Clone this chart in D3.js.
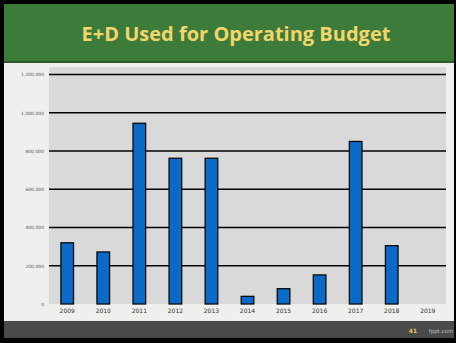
<!DOCTYPE html>
<html lang="en">
<head>
<meta charset="UTF-8">
<title>E+D Used for Operating Budget</title>
<script src="https://d3js.org/d3.v7.min.js"></script>
<style>
    body { margin: 0; background: #000; }
    svg { display: block; }
</style>
</head>
<body>
<svg id="chart" width="456" height="343"></svg>
<script>
    // Data
    var years = ["2009", "2010", "2011", "2012", "2013", "2014", "2015", "2016", "2017", "2018", "2019"];
    var amounts = [320000, 272000, 945000, 762000, 762000, 40000, 80000, 152000, 850000, 305000, 0];
    var yTicks = [0, 200000, 400000, 600000, 800000, 1000000, 1200000];

    var svg = d3.select("#chart"),
        width = +svg.attr("width"),
        height = +svg.attr("height");

    // slide frame
    svg.append("rect").attr("width", width).attr("height", height).attr("fill", "#000");
    svg.append("rect").attr("x", 4).attr("y", 4).attr("width", width - 6).attr("height", 317).attr("fill", "#efefed");

    // header
    svg.append("rect").attr("x", 4).attr("y", 4).attr("width", width - 6).attr("height", 58).attr("fill", "#3d7b3b");
    svg.append("rect").attr("x", 4).attr("y", 61).attr("width", width - 6).attr("height", 2).attr("fill", "#2c5a2b");
    svg.append("text")
        .attr("x", 236).attr("y", 41)
        .attr("text-anchor", "middle")
        .attr("font-family", "Open Sans, sans-serif")
        .attr("font-weight", "bold")
        .attr("font-size", 20)
        .attr("fill", "#f3d66b")
        .text("E+D Used for Operating Budget");

    // footer
    svg.append("rect").attr("x", 4).attr("y", 321).attr("width", width - 6).attr("height", 17).attr("fill", "#4a4a4a");
    svg.append("text").attr("x", 413).attr("y", 333).attr("text-anchor", "middle")
        .attr("font-family", "DejaVu Sans, sans-serif").attr("font-size", 6).attr("font-weight", "bold")
        .attr("fill", "#e8c95a").text("41");
    svg.append("text").attr("x", 441).attr("y", 333).attr("text-anchor", "middle")
        .attr("font-family", "DejaVu Sans, sans-serif").attr("font-size", 5.5)
        .attr("fill", "#b8b8b8").text("fppt.com");

    // plot
    var margin = { left: 49, right: 10, top: 67, bottom: 39 };
    var plotW = width - margin.left - margin.right,
        plotH = height - margin.top - margin.bottom;

    var x = d3.scaleBand().domain(years).range([margin.left, margin.left + plotW]).paddingInner(0.65).paddingOuter(0.33);
    var y = d3.scaleLinear().domain([0, 1200000]).range([304, 74.5]);

    svg.append("rect").attr("x", margin.left).attr("y", margin.top)
        .attr("width", plotW).attr("height", 304 - margin.top).attr("fill", "#d9d9d9");

    // gridlines
    svg.append("g").selectAll("line")
        .data(yTicks.filter(function (d) { return d > 0; }))
        .join("line")
        .attr("x1", margin.left).attr("x2", margin.left + plotW)
        .attr("y1", function (d) { return y(d); })
        .attr("y2", function (d) { return y(d); })
        .attr("stroke", "#000").attr("stroke-width", 1.4);

    // y axis labels
    var yAxis = d3.axisLeft(y).tickValues(yTicks).tickSize(0).tickPadding(5)
        .tickFormat(d3.format(","));
    svg.append("g").attr("transform", "translate(" + margin.left + ",0)").call(yAxis)
        .call(function (g) { g.select(".domain").remove(); })
        .selectAll("text")
        .attr("font-family", "DejaVu Sans, sans-serif").attr("font-size", 4.5).attr("fill", "#555");

    // bars
    svg.append("g").selectAll("rect")
        .data(years.map(function (d, i) { return { year: d, value: amounts[i] }; }).filter(function (d) { return d.value > 0; }))
        .join("rect")
        .attr("x", function (d) { return x(d.year); })
        .attr("y", function (d) { return y(d.value); })
        .attr("width", x.bandwidth())
        .attr("height", function (d) { return y(0) - y(d.value); })
        .attr("fill", "#0b6ac8")
        .attr("stroke", "#0a0a0a").attr("stroke-width", 1.3);

    // x axis labels
    var xAxis = d3.axisBottom(x).tickSize(0).tickPadding(5);
    svg.append("g").attr("transform", "translate(0,304)").call(xAxis)
        .call(function (g) { g.select(".domain").remove(); })
        .selectAll("text")
        .attr("font-family", "DejaVu Sans, sans-serif").attr("font-size", 6).attr("fill", "#333");
</script>
</body>
</html>
